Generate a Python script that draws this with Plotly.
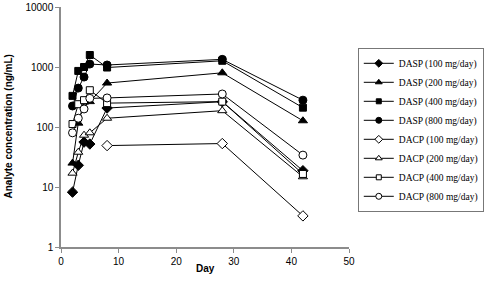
import plotly.graph_objects as go

days = [2, 3, 4, 5, 8, 28, 42]
days_dacp100 = [8, 28, 42]

dasp_100 = [8.2, 23, 56, 52, 207, 264, 18.7]
dasp_200 = [25, 116, 260, 265, 540, 800, 127]
dasp_400 = [330, 860, 1000, 1585, 980, 1270, 210]
dasp_800 = [224, 445, 680, 1120, 1080, 1340, 280]
dacp_100 = [49, 53, 3.3]
dacp_200 = [17, 38, 73, 80, 140, 187, 14.8]
dacp_400 = [112, 240, 280, 410, 250, 265, 16.5]
dacp_800 = [80, 140, 200, 300, 305, 355, 34]

series = [
    ("DASP (100 mg/day)", days, dasp_100, "diamond", "black", 8),
    ("DASP (200 mg/day)", days, dasp_200, "triangle-up", "black", 8),
    ("DASP (400 mg/day)", days, dasp_400, "square", "black", 7),
    ("DASP (800 mg/day)", days, dasp_800, "circle", "black", 8),
    ("DACP (100 mg/day)", days_dacp100, dacp_100, "diamond", "white", 8),
    ("DACP (200 mg/day)", days, dacp_200, "triangle-up", "white", 8),
    ("DACP (400 mg/day)", days, dacp_400, "square", "white", 7),
    ("DACP (800 mg/day)", days, dacp_800, "circle", "white", 8),
]

fig = go.Figure()
for name, x, y, sym, fill, size in series:
    fig.add_trace(go.Scatter(
        x=x, y=y, name=name, mode="lines+markers", showlegend=False,
        line=dict(color="black", width=1),
        marker=dict(symbol=sym, size=size, color=fill,
                    line=dict(color="black", width=1)),
    ))
# legend-only entries with smaller markers
for name, x, y, sym, fill, size in series:
    fig.add_trace(go.Scatter(
        x=[None], y=[None], name=name, mode="lines+markers", showlegend=True,
        line=dict(color="black", width=1),
        marker=dict(symbol=sym, size=size - 2, color=fill,
                    line=dict(color="black", width=1)),
    ))

axis_col = "#8c8c8c"
fig.update_layout(
    width=487, height=281,
    margin=dict(l=61, r=138, t=7, b=34, autoexpand=False),
    paper_bgcolor="white", plot_bgcolor="white",
    showlegend=True,
    legend=dict(
        x=1.468, y=0.83, xanchor="right", yanchor="top",
        bordercolor="#777777", borderwidth=1,
        font=dict(family="Liberation Serif", size=9.5, color="black"),
        tracegroupgap=0, itemwidth=30,
    ),
    font=dict(family="Liberation Sans", color="black"),
    annotations=[
        dict(text="<b>Day</b>", xref="paper", yref="paper", x=0.5, y=0,
             xanchor="center", yanchor="top", yshift=-14, showarrow=False,
             font=dict(family="Liberation Sans", size=10)),
        dict(text="<b>Analyte concentration (ng/mL)</b>", xref="paper", yref="paper",
             x=0, y=0.5, xanchor="right", yanchor="middle", xshift=-46,
             textangle=-90, showarrow=False,
             font=dict(family="Liberation Sans", size=10)),
    ],
)
fig.update_xaxes(
    range=[0, 50], tickvals=[0, 10, 20, 30, 40, 50], automargin=False,
    showgrid=False, zeroline=False, showline=True,
    linecolor=axis_col, linewidth=1.5, ticks="outside",
    tickcolor=axis_col, ticklen=4,
    tickfont=dict(family="Liberation Sans", size=10),
)
fig.update_yaxes(
    type="log", range=[0, 4], automargin=False,
    tickvals=[1, 10, 100, 1000, 10000], ticktext=["1", "10", "100", "1000", "10000"],
    showgrid=False, zeroline=False, showline=True,
    linecolor=axis_col, linewidth=1.5, ticks="outside",
    tickcolor=axis_col, ticklen=4,
    tickfont=dict(family="Liberation Sans", size=10),
)

fig.write_html("out.html", config={"displayModeBar": False},
               post_script="document.body.style.margin='0';document.body.style.overflow='hidden';")
